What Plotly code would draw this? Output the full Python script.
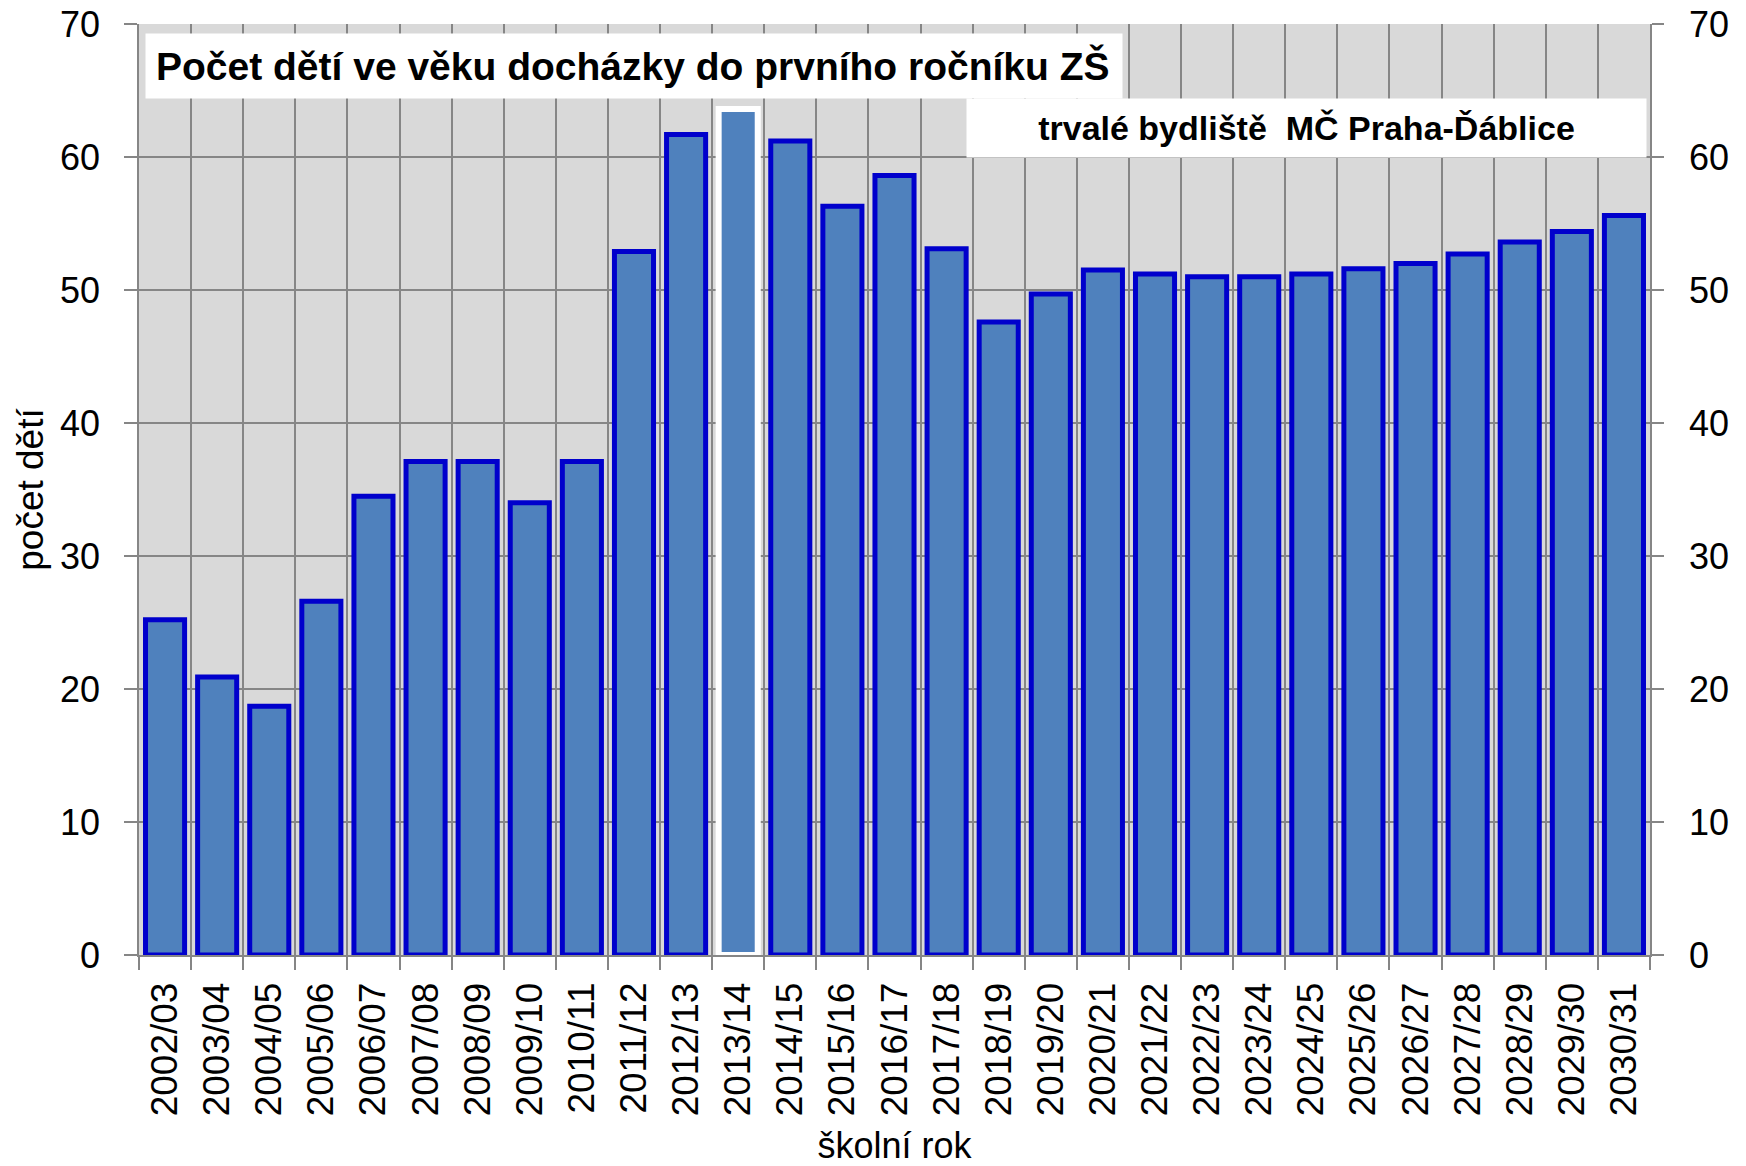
import plotly.graph_objects as go

# ---- data ----
school_years = ["2002/03", "2003/04", "2004/05", "2005/06", "2006/07", "2007/08",
                "2008/09", "2009/10", "2010/11", "2011/12", "2012/13", "2013/14",
                "2014/15", "2015/16", "2016/17", "2017/18", "2018/19", "2019/20",
                "2020/21", "2021/22", "2022/23", "2023/24", "2024/25", "2025/26",
                "2026/27", "2027/28", "2028/29", "2029/30", "2030/31"]
children = [25.2, 20.9, 18.7, 26.6, 34.5, 37.1, 37.1, 34.0, 37.1, 52.9, 61.7, 63.6,
            61.2, 56.3, 58.6, 53.1, 47.6, 49.7, 51.5, 51.2, 51.0, 51.0, 51.2, 51.6,
            52.0, 52.7, 53.6, 54.4, 55.6]
highlight_year = "2013/14"
y_tick_vals = [0, 10, 20, 30, 40, 50, 60, 70]
y_tick_text = [str(v) for v in y_tick_vals]

title_text = "Počet dětí ve věku docházky do prvního ročníku ZŠ"
subtitle_text = "trvalé bydliště&nbsp; MČ Praha-Ďáblice"
y_title = "počet dětí"
x_title = "školní rok"

# ---- styles ----
FONT = "Liberation Sans, Arial, sans-serif"
FILL = "#4F81BD"
EDGE = "#0000CC"
GRID = "#868686"
BG = "#D9D9D9"

W, H = 1746, 1166
L, R, T, B = 139, 96, 24, 211
pw, ph = W - L - R, H - T - B

line_colors = ["white" if c == highlight_year else EDGE for c in school_years]
line_widths = [6 if c == highlight_year else 5 for c in school_years]

fig = go.Figure()
fig.add_trace(go.Bar(
    x=school_years, y=children,
    marker=dict(color=FILL, line=dict(color=line_colors, width=line_widths)),
    showlegend=False, hoverinfo="x+y",
))
# helper trace so that the right-hand axis is drawn
fig.add_trace(go.Scatter(
    x=school_years, y=children, yaxis="y2", mode="markers",
    marker=dict(opacity=0), showlegend=False, hoverinfo="skip",
))

axis_font = dict(family=FONT, size=36, color="black")

fig.update_layout(
    width=W, height=H,
    margin=dict(l=L, r=R, t=T, b=B, pad=0, autoexpand=False),
    paper_bgcolor="white", plot_bgcolor=BG,
    bargap=0.25,
    font=dict(family=FONT, color="black"),
    xaxis=dict(
        type="category", tickson="boundaries", range=[-0.5, len(school_years) - 0.5],
        ticks="outside", ticklen=13, tickwidth=1.5, tickcolor=GRID,
        showgrid=True, gridcolor=GRID, gridwidth=1.5,
        showline=True, linecolor=GRID, linewidth=1.5, automargin=True,
        tickangle=-90, tickfont=dict(family=FONT, size=37, color="black"),
        ticklabelstandoff=11,
        title=dict(text=x_title, font=dict(family=FONT, size=36, color="black"), standoff=20),
    ),
    yaxis=dict(
        range=[0, 70], tickvals=y_tick_vals, ticktext=y_tick_text,
        ticks="outside", ticklen=13, tickwidth=1.5, tickcolor=GRID,
        showgrid=True, gridcolor=GRID, gridwidth=1.5, zeroline=False,
        showline=True, linecolor=GRID, linewidth=1.5, automargin=True,
        tickfont=axis_font, ticklabelstandoff=17,
        title=dict(text=y_title, font=dict(family=FONT, size=37, color="black"), standoff=5),
    ),
    yaxis2=dict(
        range=[0, 70], tickvals=y_tick_vals, ticktext=y_tick_text,
        overlaying="y", side="right",
        ticks="outside", ticklen=12, tickwidth=1.5, tickcolor=GRID,
        showgrid=False, zeroline=False, automargin=False,
        showline=True, linecolor=GRID, linewidth=1.5,
        tickfont=axis_font, ticklabelstandoff=18,
    ),
    annotations=[
        dict(text="<b>" + title_text + "</b>", xref="paper", yref="paper",
             x=(145 - L) / pw, y=1 - (33 - T) / ph, xanchor="left", yanchor="top",
             showarrow=False, align="left", bgcolor="white", borderpad=10,
             width=956, height=44, font=dict(family=FONT, size=39, color="black")),
        dict(text="<b>" + subtitle_text + "</b>", xref="paper", yref="paper",
             x=(966 - L) / pw, y=1 - (98 - T) / ph, xanchor="left", yanchor="top",
             showarrow=False, align="center", bgcolor="white", borderpad=0,
             width=679, height=58, font=dict(family=FONT, size=34, color="black")),
    ],
)

fig.write_html("out.html", config={"displayModeBar": False},
               post_script="document.body.style.margin='0';document.body.style.overflow='hidden';")
